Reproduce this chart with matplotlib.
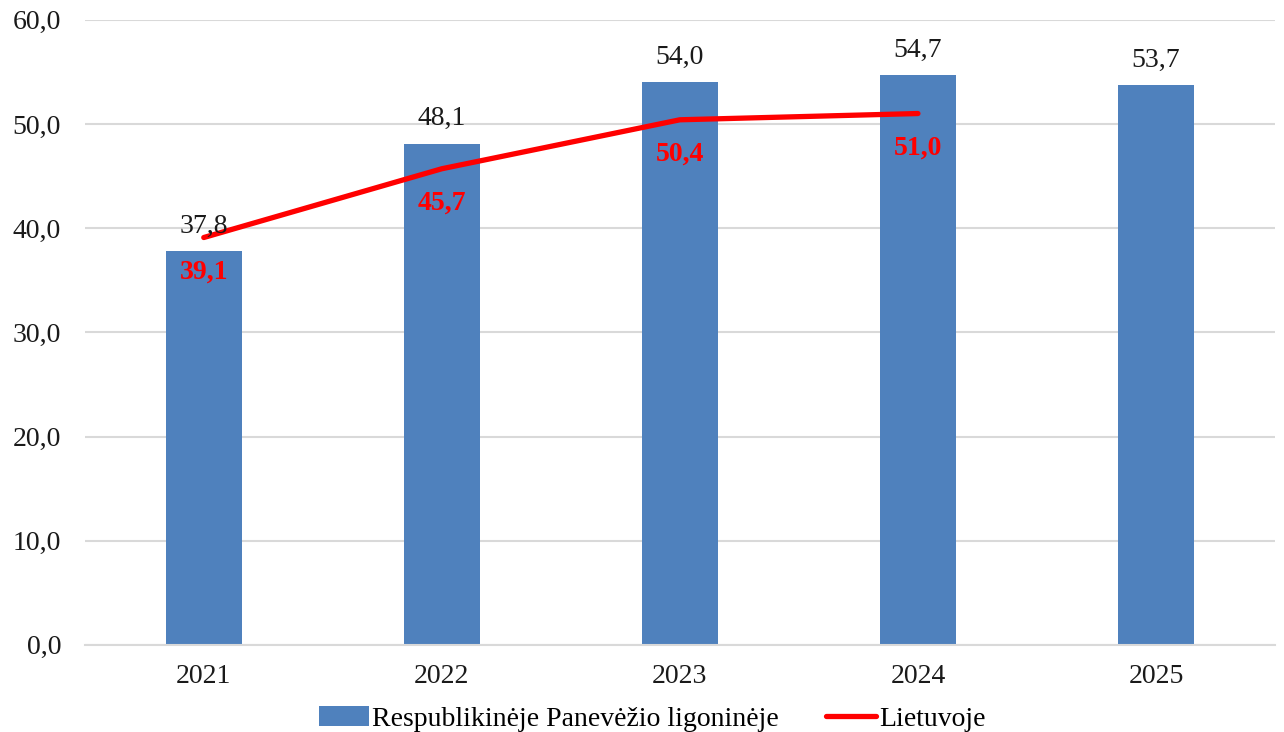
import matplotlib.pyplot as plt
import numpy as np

years = ["2021", "2022", "2023", "2024", "2025"]
hospital = [37.8, 48.1, 54.0, 54.7, 53.7]
lithuania = [39.1, 45.7, 50.4, 51.0]
y_ticks = [0, 10, 20, 30, 40, 50, 60]

bar_color = "#4F81BD"
line_color = "#FF0000"
grid_color = "#D9D9D9"
text_color = "#1a1a1a"

plt.rcParams["font.family"] = ["Liberation Serif", "DejaVu Serif"]

fig = plt.figure(figsize=(12.84, 7.32), dpi=100)
ax = fig.add_axes([0.066, 0.119, 0.927, 0.854])

x = np.arange(len(years))
bars = ax.bar(x, hospital, width=0.32, color=bar_color, zorder=2,
              label="Respublikinėje Panevėžio ligoninėje")
line, = ax.plot(x[:len(lithuania)], lithuania, color=line_color, lw=3.8,
                solid_capstyle="round", zorder=3, label="Lietuvoje")

def fmt(v):
    return f"{v:.1f}".replace(".", ",")

for xi, v in zip(x, hospital):
    ax.annotate(fmt(v), (xi, v), xytext=(0, 18), textcoords="offset points",
                ha="center", va="center", fontsize=20, color=text_color, zorder=4)
for xi, v in zip(x, lithuania):
    ax.annotate(fmt(v), (xi, v), xytext=(0, -25), textcoords="offset points",
                ha="center", va="center", fontsize=20, fontweight="bold",
                color=line_color, zorder=4)

ax.set_xlim(-0.5, len(years) - 0.5)
ax.set_ylim(0, 60)
ax.set_yticks(y_ticks)
ax.set_yticklabels([fmt(v) for v in y_ticks], fontsize=20, color=text_color)
ax.set_xticks(x)
ax.set_xticklabels(years, fontsize=20, color=text_color)
ax.tick_params(axis="x", length=0, pad=14)
ax.tick_params(axis="y", length=0, pad=17)
ax.grid(axis="y", color=grid_color, lw=1.5, zorder=0)
ax.set_axisbelow(True)
for s in ["top", "right", "left"]:
    ax.spines[s].set_visible(False)
ax.spines["bottom"].set_color(grid_color)
ax.spines["bottom"].set_linewidth(1.5)

fig.legend(handles=[bars, line], loc="lower center",
           bbox_to_anchor=(0.508, -0.034), ncol=2, frameon=False, fontsize=20,
           handlelength=1.8, handleheight=0.75, columnspacing=1.7,
           handletextpad=0.1)

fig.savefig("out.png", dpi=100)
